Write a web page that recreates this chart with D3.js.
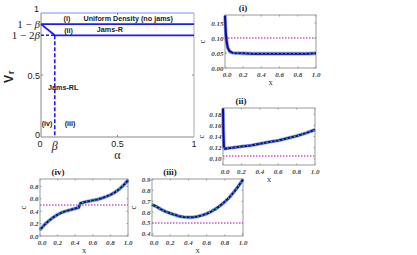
<!DOCTYPE html>
<html><head><meta charset="utf-8">
<script src="https://cdn.jsdelivr.net/npm/d3@7"></script>
<style>body{margin:0;background:#fff}svg{display:block}</style>
</head><body>
<svg id="c" width="417" height="255"></svg>
<script>
// ---------- data ----------
const beta = 0.09;
const mainXTicks = [0, 0.09, 0.5, 1];
const mainXTickLabels = ["0", "β", "0.5", "1"];
const mainYTicks = [0, 0.5, 0.82, 0.91, 1];
const mainYTickLabels = ["0", "0.5", "1 − 2β", "1 − β", "1"];
const regionLabels = ["(i)", "Uniform Density (no jams)", "(ii)", "Jams-R", "Jams-RL", "(iv)", "(iii)"];

const xTicks = [0, 0.2, 0.4, 0.6, 0.8, 1.0];

const xI = [0, 0.005, 0.01, 0.02, 0.03, 0.05, 0.08, 0.1, 0.2, 0.3, 0.4, 0.5, 0.6, 0.7, 0.8, 0.9, 1.0];
const cI = [0.175, 0.14, 0.112, 0.085, 0.068, 0.056, 0.051, 0.05, 0.049, 0.048, 0.048, 0.048, 0.048, 0.048, 0.048, 0.048, 0.049];
const greenI = 0.05, magentaI = 0.10;
const yTicksI = [0, 0.05, 0.10, 0.15];

const xII = [0, 0.004, 0.01, 0.02, 0.05, 0.1, 0.2, 0.3, 0.4, 0.5, 0.6, 0.7, 0.8, 0.9, 1.0];
const cII = [0.19, 0.15, 0.121, 0.118, 0.119, 0.120, 0.122, 0.124, 0.127, 0.130, 0.133, 0.137, 0.141, 0.146, 0.152];
const xGreenII = [0, 0.1, 0.2, 0.3, 0.4, 0.5, 0.6, 0.7, 0.8, 0.9, 1.0];
const greenII = [0.119, 0.120, 0.122, 0.124, 0.127, 0.130, 0.133, 0.137, 0.141, 0.146, 0.151];
const magentaII = 0.105;
const yTicksII = [0.10, 0.12, 0.14, 0.16, 0.18];

const xIV = [0, 0.05, 0.1, 0.15, 0.2, 0.25, 0.3, 0.35, 0.4, 0.44, 0.46, 0.5, 0.55, 0.6, 0.65, 0.7, 0.75, 0.8, 0.85, 0.9, 0.95, 1.0];
const cIV = [0.10, 0.18, 0.245, 0.30, 0.345, 0.38, 0.405, 0.425, 0.445, 0.46, 0.53, 0.545, 0.56, 0.575, 0.59, 0.61, 0.635, 0.665, 0.705, 0.755, 0.82, 0.90];
const magentaIV = 0.5;
const yTicksIV = [0, 0.2, 0.4, 0.6, 0.8];

const xIII = [0, 0.05, 0.1, 0.15, 0.2, 0.25, 0.3, 0.35, 0.4, 0.45, 0.5, 0.55, 0.6, 0.65, 0.7, 0.75, 0.8, 0.85, 0.9, 0.95, 1.0];
const cIII = [0.67, 0.65, 0.625, 0.605, 0.59, 0.575, 0.562, 0.555, 0.552, 0.553, 0.56, 0.57, 0.585, 0.605, 0.63, 0.66, 0.695, 0.735, 0.785, 0.84, 0.90];
const magentaIII = 0.5;
const yTicksIII = [0.4, 0.5, 0.6, 0.7, 0.8, 0.9];

// ---------- drawing ----------
const svg = d3.select("#c");
svg.append("rect").attr("width", 417).attr("height", 255).attr("fill", "#fff");

// Main phase diagram
(function () {
  const L = 41, R = 194, T = 13, B = 137;
  const x = d3.scaleLinear().domain([0, 1]).range([L, R]);
  const y = d3.scaleLinear().domain([0, 1]).range([B, T]);
  const g = svg.append("g");
  const blue = "#1a1aff";
  // frame
  g.append("line").attr("x1", L).attr("x2", L).attr("y1", T).attr("y2", B).attr("stroke", "#888");
  g.append("line").attr("x1", L).attr("x2", R).attr("y1", B).attr("y2", B).attr("stroke", "#888");
  g.append("line").attr("x1", R).attr("x2", R).attr("y1", T).attr("y2", B).attr("stroke", "#aaa");
  g.append("line").attr("x1", L).attr("x2", R).attr("y1", y(1)).attr("y2", y(1)).attr("stroke", "#7f8cff").attr("stroke-width", 1);
  // small ticks
  [0.5].forEach(v => {
    g.append("line").attr("x1", x(v)).attr("x2", x(v)).attr("y1", B).attr("y2", B - 2).attr("stroke", "#888");
    g.append("line").attr("x1", x(v)).attr("x2", x(v)).attr("y1", T).attr("y2", T + 2).attr("stroke", "#888");
    g.append("line").attr("x1", L).attr("x2", L + 2).attr("y1", y(v)).attr("y2", y(v)).attr("stroke", "#888");
    g.append("line").attr("x1", R).attr("x2", R - 2).attr("y1", y(v)).attr("y2", y(v)).attr("stroke", "#888");
  });
  // boundaries
  g.append("line").attr("x1", x(0)).attr("x2", x(1)).attr("y1", y(1 - beta)).attr("y2", y(1 - beta))
    .attr("stroke", blue).attr("stroke-width", 1.8);
  g.append("path").attr("d", d3.line().x(d => x(d[0])).y(d => y(d[1]))([[0, 1 - beta], [beta, 1 - 2 * beta], [1, 1 - 2 * beta]]))
    .attr("fill", "none").attr("stroke", blue).attr("stroke-width", 1.8);
  g.append("line").attr("x1", x(0)).attr("x2", x(beta)).attr("y1", y(1 - 2 * beta)).attr("y2", y(1 - 2 * beta))
    .attr("stroke", blue).attr("stroke-width", 1.4).attr("stroke-dasharray", "3,2");
  g.append("line").attr("x1", x(beta)).attr("x2", x(beta)).attr("y1", y(1 - 2 * beta)).attr("y2", y(0))
    .attr("stroke", blue).attr("stroke-width", 1.6).attr("stroke-dasharray", "4,2");
  // tick labels
  const serif = "Liberation Serif, serif", sans = "Liberation Sans, Arial, sans-serif";
  mainXTicks.forEach((v, i) => {
    const lab = mainXTickLabels[i];
    const isB = lab === "β";
    g.append("text").attr("x", x(v) + (i === 0 ? -1 : 0)).attr("y", isB ? B + 13 : B + 10)
      .attr("text-anchor", "middle").attr("font-family", isB ? serif : sans)
      .attr("font-style", isB ? "italic" : "normal")
      .attr("font-size", isB ? 12 : 9).attr("fill", "#222").text(lab);
  });
  mainYTicks.forEach((v, i) => {
    const lab = mainYTickLabels[i];
    const math = lab.indexOf("β") >= 0;
    const t = g.append("text").attr("x", v === 1 ? L - 2 : L - 1).attr("y", y(v) + (v === 1 ? -1 : (v === 0 ? 1 : 4)))
      .attr("text-anchor", "end").attr("font-family", math ? serif : sans)
      .attr("font-size", math ? 11 : 9).attr("fill", "#222");
    if (math) {
      const parts = lab.split("β");
      t.append("tspan").text(parts[0]);
      t.append("tspan").attr("font-style", "italic").text("β");
    } else t.text(lab);
  });
  // axis labels
  const vl = g.append("text").attr("transform", `translate(13,83) rotate(-90)`)
    .attr("font-family", sans).attr("font-weight", "bold").attr("font-size", 12).attr("fill", "#222");
  vl.append("tspan").text("V");
  vl.append("tspan").attr("font-size", 9).attr("dy", 1).attr("dx", 1).text("r");
  g.append("text").attr("x", x(0.5)).attr("y", B + 22).attr("text-anchor", "middle")
    .attr("font-family", serif).attr("font-size", 12).attr("fill", "#222").text("α");
  // region labels
  const lab = (t, xv, yv) => g.append("text").attr("x", x(xv)).attr("y", y(yv)).attr("text-anchor", "middle")
    .attr("font-family", sans).attr("font-weight", "bold").attr("font-size", 7.2).attr("fill", "#222").text(t);
  lab(regionLabels[0], 0.17, 0.935);
  lab(regionLabels[1], 0.57, 0.935);
  lab(regionLabels[2], 0.18, 0.84);
  lab(regionLabels[3], 0.45, 0.847);
  lab(regionLabels[4], 0.145, 0.38);
  lab(regionLabels[5], 0.04, 0.09);
  lab(regionLabels[6], 0.19, 0.09);
})();

// Small panels
function panel(opt) {
  const { L, R, T, B, yDom, yTicks, yFmt, title, xs, cs, gx, gy, mag, cOff } = opt;
  const x = d3.scaleLinear().domain([0, 1]).range([L, R]);
  const y = d3.scaleLinear().domain(yDom).range([B, T]);
  const g = svg.append("g");
  const serif = "Liberation Serif, serif";
  g.append("rect").attr("x", L).attr("y", T).attr("width", R - L).attr("height", B - T)
    .attr("fill", "none").attr("stroke", "#999").attr("stroke-width", 1);
  // ticks
  xTicks.forEach(v => {
    g.append("line").attr("x1", x(v)).attr("x2", x(v)).attr("y1", B).attr("y2", B - 1.5).attr("stroke", "#999");
    g.append("line").attr("x1", x(v)).attr("x2", x(v)).attr("y1", T).attr("y2", T + 1.5).attr("stroke", "#999");
    g.append("text").attr("x", x(v) + (v === 0 ? 2 : 0)).attr("y", B + 8.5).attr("text-anchor", "middle")
      .attr("font-family", serif).attr("font-style", "italic").attr("font-weight", "bold")
      .attr("font-size", 7).attr("fill", "#444").text(d3.format(".1f")(v));
  });
  yTicks.forEach(v => {
    g.append("line").attr("x1", L).attr("x2", L + 1.5).attr("y1", y(v)).attr("y2", y(v)).attr("stroke", "#999");
    g.append("line").attr("x1", R).attr("x2", R - 1.5).attr("y1", y(v)).attr("y2", y(v)).attr("stroke", "#999");
    g.append("text").attr("x", L - 1.5).attr("y", y(v) + 2.5).attr("text-anchor", "end")
      .attr("font-family", serif).attr("font-style", "italic").attr("font-weight", "bold")
      .attr("font-size", 7).attr("fill", "#444").text(d3.format(yFmt)(v));
  });
  // labels
  g.append("text").attr("x", (L + R) / 2).attr("y", B + 17).attr("text-anchor", "middle")
    .attr("font-family", serif).attr("font-size", 8.5).attr("fill", "#333").text("x");
  g.append("text").attr("transform", `translate(${L - cOff},${(T + B) / 2}) rotate(-90)`).attr("text-anchor", "middle")
    .attr("font-family", serif).attr("font-size", 8.5).attr("fill", "#333").text("c");
  g.append("text").attr("x", L + 18).attr("y", T - 4).attr("text-anchor", "middle")
    .attr("font-family", serif).attr("font-weight", "bold").attr("font-size", 9).attr("fill", "#222").text(title);
  // magenta
  g.append("line").attr("x1", L).attr("x2", R).attr("y1", y(mag)).attr("y2", y(mag))
    .attr("stroke", "#cc55cc").attr("stroke-width", 1.5).attr("stroke-dasharray", "1.5,1.5");
  const line = d3.line().x(d => x(d[0])).y(d => y(d[1]));
  const pts = xs.map((v, i) => [v, cs[i]]);
  g.append("path").attr("d", line(pts)).attr("fill", "none").attr("stroke", "#3a4fe0")
    .attr("stroke-width", 3.6).attr("stroke-opacity", 0.55).attr("stroke-linejoin", "round");
  g.append("path").attr("d", line(pts)).attr("fill", "none").attr("stroke", "#0a0a9a")
    .attr("stroke-width", 2).attr("stroke-linejoin", "round");
  const gpts = gx.map((v, i) => [v, gy[i]]);
  g.append("path").attr("d", line(gpts)).attr("fill", "none").attr("stroke", "#33dd33")
    .attr("stroke-width", 1.3).attr("stroke-dasharray", "1.5,2.5").attr("stroke-opacity", 0.9);
}

panel({ L: 225, R: 316, T: 15, B: 68, yDom: [0, 0.177], yTicks: yTicksI, yFmt: ".2f", title: "(i)",
  xs: xI, cs: cI, gx: [0, 1], gy: [greenI, greenI], mag: magentaI, cOff: 20 });
panel({ L: 223, R: 315, T: 108, B: 165, yDom: [0.089, 0.191], yTicks: yTicksII, yFmt: ".2f", title: "(ii)",
  xs: xII, cs: cII, gx: xGreenII, gy: greenII, mag: magentaII, cOff: 19 });
panel({ L: 40, R: 128, T: 179, B: 236, yDom: [0, 0.92], yTicks: yTicksIV, yFmt: ".1f", title: "(iv)",
  xs: xIV, cs: cIV, gx: xIV, gy: cIV, mag: magentaIV, cOff: 14 });
panel({ L: 152, R: 243, T: 179, B: 236, yDom: [0.38, 0.905], yTicks: yTicksIII, yFmt: ".1f", title: "(iii)",
  xs: xIII, cs: cIII, gx: xIII, gy: cIII, mag: magentaIII, cOff: 16 });
</script>
</body></html>
